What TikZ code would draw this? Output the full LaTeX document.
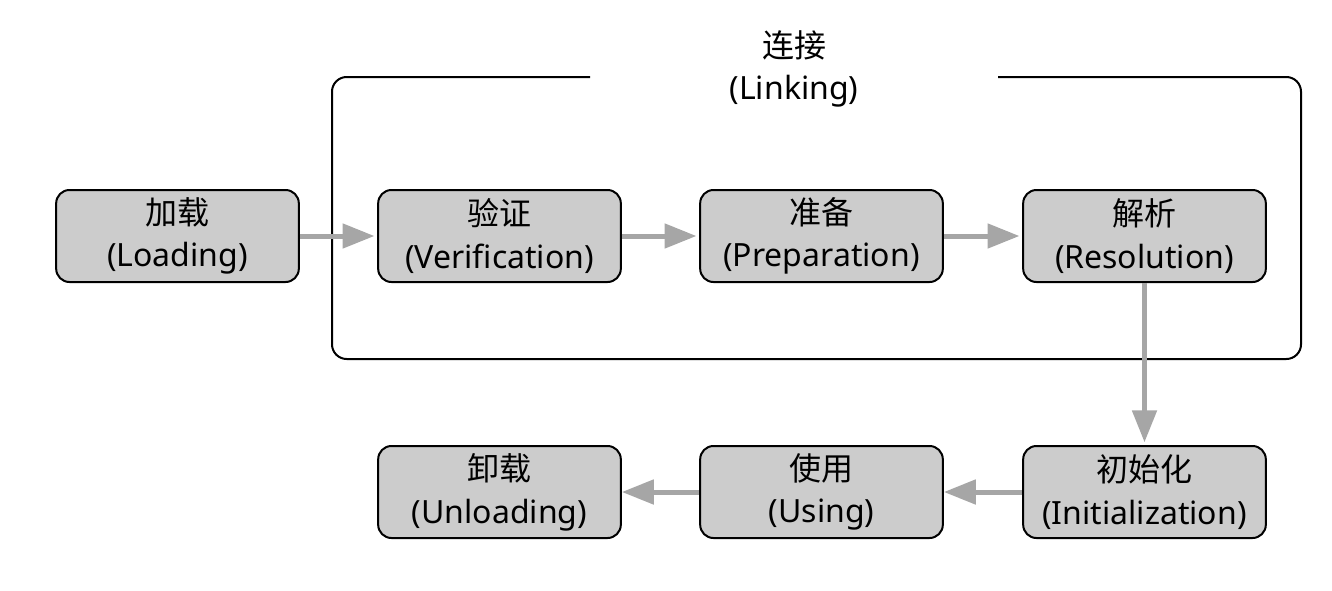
\documentclass[tikz,border=0pt]{standalone}
\usepackage{fontspec}
\setmainfont{Noto Sans}
\newfontfamily\cjk{Noto Sans CJK SC}
\usetikzlibrary{arrows.meta}
\tikzset{
	stagestyle/.style={rectangle, rounded corners=10pt, draw=black, line width=1.5pt,
		fill=black!20, minimum width=182pt, minimum height=69pt, align=center,
		font=\fontsize{24}{32}\selectfont, inner sep=0pt},
	flowstyle/.style={draw=black!35, line width=3.75pt,
		-{Triangle[length=24pt, width=18pt]}}
}
\begin{document}
\begin{tikzpicture}[x=0.75pt, y=-0.75pt]
	\useasboundingbox (0,0) rectangle (1332,590);
	\node[stagestyle] (load) at (177.5,236) {{\cjk 加载}\\(Loading)};
	\node[stagestyle] (verify) at (499.5,236) {{\cjk 验证}\\(Verification)};
	\node[stagestyle] (prepare) at (821.5,236) {{\cjk 准备}\\(Preparation)};
	\node[stagestyle] (resolve) at (1144.5,236) {{\cjk 解析}\\(Resolution)};
	\node[stagestyle] (init) at (1144.5,492) {{\cjk 初始化}\\(Initialization)};
	\node[stagestyle] (use) at (821.5,492) {{\cjk 使用}\\(Using)};
	\node[stagestyle] (unload) at (499.5,492) {{\cjk 卸载}\\(Unloading)};
	\node[align=center, font=\fontsize{24}{32}\selectfont] (link) at (794,69) {{\cjk 连接}\\(Linking)};
	\draw[line width=1.5pt, rounded corners=11pt] (998,77) -- (1301,77) -- (1301,359)
		-- (332,359) -- (332,77) -- (590,77);
	\draw[flowstyle, shorten >=2pt] (load) -- (verify);
	\draw[flowstyle, shorten >=2pt] (verify) -- (prepare);
	\draw[flowstyle, shorten >=2pt] (prepare) -- (resolve);
	\draw[flowstyle, shorten >=2pt] (resolve) -- (init);
	\draw[flowstyle] (init) -- (use);
	\draw[flowstyle] (use) -- (unload);
\end{tikzpicture}
\end{document}
